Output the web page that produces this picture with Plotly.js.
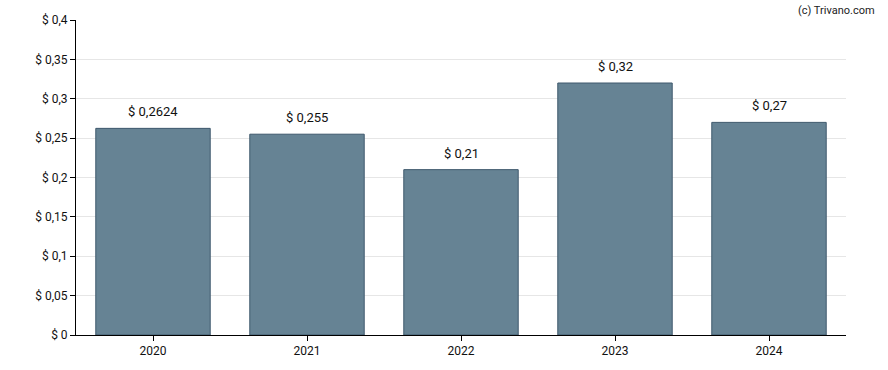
<!DOCTYPE html>
<html>
<head>
<meta charset="utf-8">
<script src="https://cdn.plot.ly/plotly-3.0.1.min.js"></script>
<style>html,body{margin:0;padding:0;background:#fff}#chart{width:888px;height:370px}</style>
</head>
<body>
<div id="chart"></div>
<script>
const years = ['2020', '2021', '2022', '2023', '2024'];
const dividends = [0.2624, 0.255, 0.21, 0.32, 0.27];
const valueLabels = ['$ 0,2624', '$ 0,255', '$ 0,21', '$ 0,32', '$ 0,27'];
const yTickVals = [0, 0.05, 0.1, 0.15, 0.2, 0.25, 0.3, 0.35, 0.4];
const yTickText = ['$ 0', '$ 0,05', '$ 0,1', '$ 0,15', '$ 0,2', '$ 0,25', '$ 0,3', '$ 0,35', '$ 0,4'];

const xPos = years.map((_, i) => i);

const trace = {
  type: 'bar',
  x: xPos,
  y: dividends,
  marker: {color: 'rgb(102,131,148)', line: {color: 'rgb(62,88,108)', width: 1}},
  hoverinfo: 'none'
};

const annotations = xPos.map((xv, i) => ({
  x: xv, y: dividends[i], xref: 'x', yref: 'y',
  text: valueLabels[i], showarrow: false,
  yanchor: 'bottom', yshift: 7,
  font: {family: 'Roboto, Arial, sans-serif', size: 13, color: '#111'}
}));
annotations.push({
  xref: 'paper', yref: 'paper', x: 1.04, y: 1.0, xanchor: 'right', yanchor: 'bottom', yshift: 1,
  text: '(c) Trivano.com', showarrow: false,
  font: {family: 'Roboto, Arial, sans-serif', size: 11, color: '#222'}
});

const layout = {
  width: 888, height: 370,
  margin: {l: 76, r: 42, t: 20, b: 35},
  paper_bgcolor: '#fff', plot_bgcolor: '#fff',
  bargap: 0.257,
  showlegend: false,
  font: {family: 'Roboto, Arial, sans-serif', size: 12, color: '#111'},
  xaxis: {
    type: 'linear',
    range: [-0.5, years.length - 0.5],
    tickvals: xPos, ticktext: years,
    showline: true, linecolor: '#000', linewidth: 1,
    ticks: 'outside', ticklen: 5, tickcolor: '#000',
    showgrid: false, zeroline: false,
    tickfont: {size: 12, color: '#111'}
  },
  yaxis: {
    range: [0, 0.4],
    tickvals: yTickVals, ticktext: yTickText,
    showline: true, linecolor: '#000', linewidth: 1,
    ticks: 'outside', ticklen: 5, tickcolor: '#000',
    showgrid: true, gridcolor: '#e6e6e6', gridwidth: 1,
    zeroline: false,
    tickfont: {size: 12, color: '#111'}
  },
  annotations: annotations
};

Plotly.newPlot('chart', [trace], layout, {displayModeBar: false, staticPlot: true});
</script>
</body>
</html>
